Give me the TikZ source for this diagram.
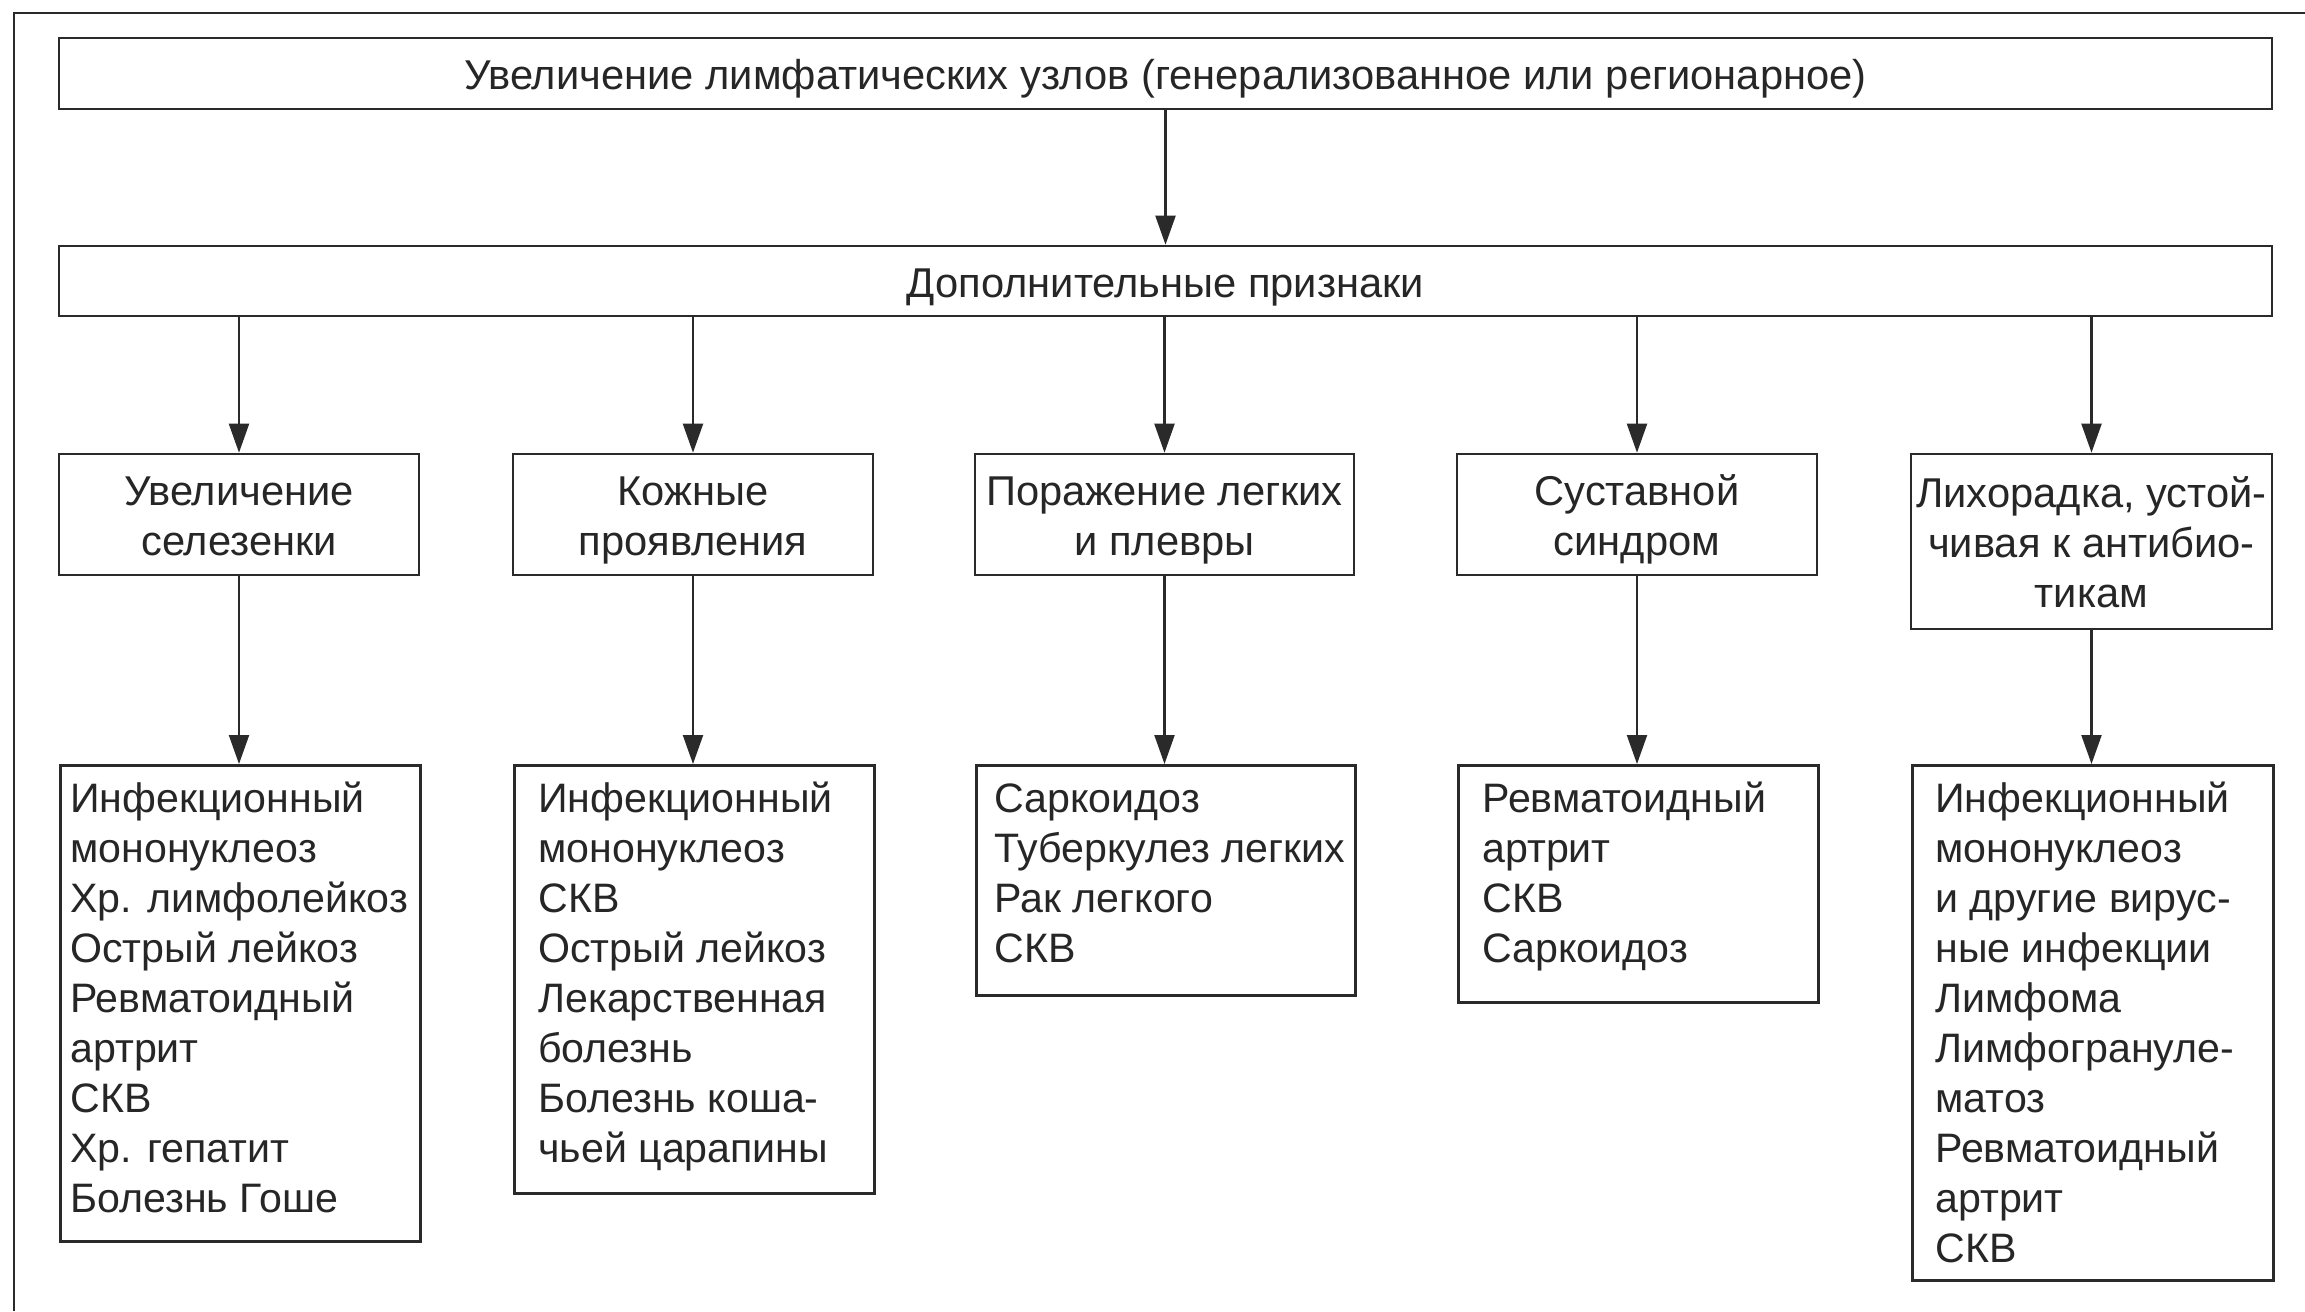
\documentclass[tikz,border=0pt]{standalone}
\usepackage{fontspec}
\setmainfont{Liberation Sans}
\usetikzlibrary{arrows.meta}
\newlength\pxu
\setlength\pxu{0.01cm}
\definecolor{ink}{HTML}{262626}
\definecolor{linec}{HTML}{2A2A2A}
\newcommand\tstrut{\rule{0pt}{13.4pt}}
\newcommand\lbox[4]{\parbox[c][#1\pxu][t]{#2\pxu}{\fontsize{11.7pt}{14.23pt}\selectfont\raggedright\leftskip=#3\pxu\vspace*{12\pxu}\strut #4}}
\begin{document}
\begin{tikzpicture}[x=0.01cm,y=-0.01cm,
  every node/.style={font=\fontsize{11.85pt}{14.23pt}\selectfont, text=ink},
  box/.style={draw=linec, line width=0.75pt, rectangle, inner sep=0pt, align=center},
  listbox/.style={draw=linec, line width=0.75pt, rectangle, inner sep=0pt, anchor=north west},
  arr/.style={draw=linec, line width=0.6pt, -{Triangle[width=0.2cm,length=0.29cm]}},
  frameline/.style={draw=linec, line width=0.65pt}]
\useasboundingbox (0,0) rectangle (2305,1311);
\fill[white] (0,0) rectangle (2305,1311);
\draw[frameline] (14,1311) -- (14,13) -- (2305,13);

\node[box, minimum width=2213\pxu, minimum height=71\pxu] (top) at (1165.5,73.5)
  {\tstrut Увеличение лимфатических узлов (генерализованное или регионарное)\strut};
\node[box, minimum width=2213\pxu, minimum height=70\pxu] (add) at (1165.5,281)
  {\tstrut Дополнительные признаки\strut};

\node[box, minimum width=360\pxu, minimum height=121\pxu] (ca) at (239,514.5) {\tstrut Увеличение\\селезенки\strut};
\node[box, minimum width=360\pxu, minimum height=121\pxu] (cb) at (693,514.5) {\tstrut Кожные\\проявления\strut};
\node[box, minimum width=379\pxu, minimum height=121\pxu] (cc) at (1164.5,514.5) {\tstrut Поражение легких\\и плевры\strut};
\node[box, minimum width=360\pxu, minimum height=121\pxu] (cd) at (1637,514.5) {\tstrut Суставной\\синдром\strut};
\node[box, minimum width=361\pxu, minimum height=175\pxu] (ce) at (2091.5,541.5) {\tstrut Лихорадка, устой-\\чивая к антибио-\\тикам\strut};

\node[listbox] (la) at (59,764) {\lbox{476}{360}{10}{Инфекционный\\мононуклеоз\\Хр. лимфолейкоз\\Острый лейкоз\\Ревматоидный\\артрит\\СКВ\\Хр. гепатит\\Болезнь Гоше}};
\node[listbox] (lb) at (513,764) {\lbox{428}{360}{24}{Инфекционный\\мононуклеоз\\СКВ\\Острый лейкоз\\Лекарственная\\болезнь\\Болезнь коша-\\чьей царапины}};
\node[listbox] (lc) at (975,764) {\lbox{230}{379}{18}{Саркоидоз\\Туберкулез легких\\Рак легкого\\СКВ}};
\node[listbox] (ld) at (1457,764) {\lbox{237}{360}{24}{Ревматоидный\\артрит\\СКВ\\Саркоидоз}};
\node[listbox] (le) at (1911,764) {\lbox{515}{361}{23}{Инфекционный\\мононуклеоз\\и другие вирус-\\ные инфекции\\Лимфома\\Лимфогрануле-\\матоз\\Ревматоидный\\артрит\\СКВ}};

\draw[arr] (top.south) -- (add.north);
\foreach \c in {ca,cb,cc,cd,ce}{
  \draw[arr] (add.south -| \c.north) -- (\c.north);
}
\draw[arr] (ca.south) -- (ca.south |- la.north);
\draw[arr] (cb.south) -- (cb.south |- lb.north);
\draw[arr] (cc.south) -- (cc.south |- lc.north);
\draw[arr] (cd.south) -- (cd.south |- ld.north);
\draw[arr] (ce.south) -- (ce.south |- le.north);
\end{tikzpicture}
\end{document}
